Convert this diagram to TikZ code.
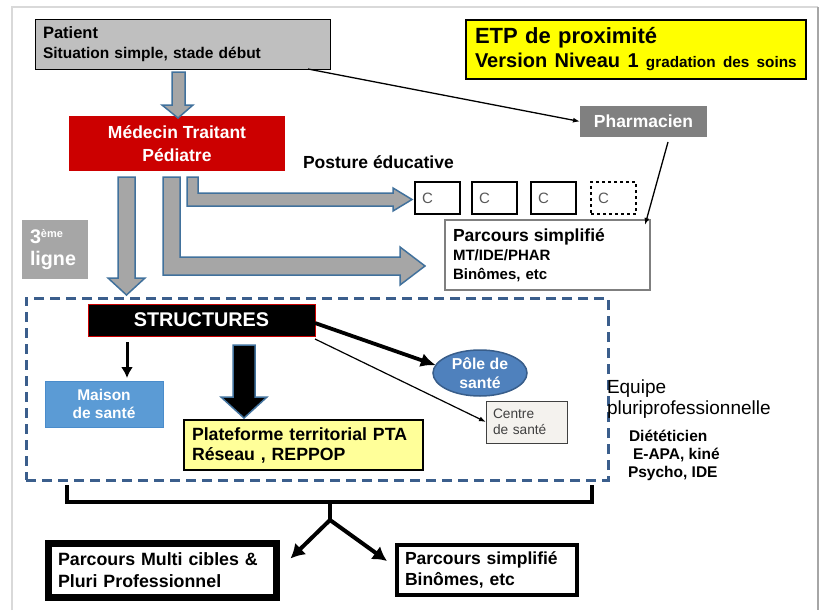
\documentclass[tikz,border=0pt]{standalone}
\usepackage{fontspec}
\setmainfont{Liberation Sans}
\usepackage{tikz}
\usetikzlibrary{arrows.meta,shapes.geometric,calc}

\definecolor{steel}{HTML}{41719C}
\definecolor{zoneblue}{HTML}{3B5E8C}
\definecolor{medred}{HTML}{CC0000}
\definecolor{boxgray}{HTML}{BFBFBF}
\definecolor{pharmgray}{HTML}{808080}
\definecolor{lignegray}{HTML}{A6A6A6}
\definecolor{blockgray}{HTML}{A6A6A6}
\definecolor{midgray}{HTML}{7F7F7F}
\definecolor{framegray}{HTML}{D9D9D9}
\definecolor{yel}{HTML}{FFFF00}
\definecolor{lightyel}{HTML}{FFFF99}
\definecolor{maisonblue}{HTML}{5B9BD5}
\definecolor{maisonedge}{HTML}{4A8CCB}
\definecolor{poleblue}{HTML}{4F81BD}
\definecolor{poleedge}{HTML}{385D8A}
\definecolor{centrefill}{HTML}{F4F2EE}
\definecolor{cgray}{HTML}{595959}

\newcommand{\fsz}[2]{\fontsize{#1}{#2}\selectfont}

\begin{document}
\begin{tikzpicture}[x=1pt,y=-1pt,
  every node/.style={outer sep=0pt},
  lbox/.style={anchor=north west,align=left,inner ysep=0pt},
  cbox/.style={draw,line width=1.8pt,anchor=north west,minimum width=45pt,minimum height=32pt,
    text width=31pt,inner xsep=7pt,align=left,text=cgray,font=\fsz{15}{18}},
  blockarrow/.style={fill=blockgray,draw=steel,line width=1.5pt,line join=miter},
  thinarrow/.style={-{Latex[length=7pt,width=5pt]},line width=1.3pt},
  thickarrow/.style={-{Latex[length=15pt,width=14pt]},line width=3.8pt},
  bracket/.style={line width=4pt,line join=miter},
  forkarrow/.style={-{Latex[length=14pt,width=16pt]},line width=4pt}]

  \useasboundingbox (0,0) rectangle (824,610);
  \draw[framegray,line width=1.5pt] (12,610) -- (12,7) -- (818,7);
  \draw[lignegray,line width=2.5pt] (818,7) -- (818,610);

  \node[lbox,draw,line width=1pt,fill=boxgray,minimum width=295pt,minimum height=49pt,
    text width=279pt,inner xsep=8pt,font=\bfseries\fsz{15.5}{20}] (patient) at (35,20)
    {{\fsz{16.5}{20}Patient}\\Situation simple, stade début};
  \node[fill=medred,minimum width=216pt,minimum height=55pt,align=center,text=white,
    font=\bfseries\fsz{17.5}{23}] (med) at (177,143.5) {Médecin Traitant\\Pédiatre};
  \node[lbox,draw,line width=1.3pt,fill=yel,minimum width=340pt,minimum height=59pt,
    text width=322pt,inner xsep=9pt,font=\bfseries\fsz{22}{24}] (etp) at (466,20)
    {ETP de proximité\\{\fsz{20}{24}Version Niveau 1} {\fsz{15.3}{24}gradation des soins}};
  \node[fill=pharmgray,minimum width=127pt,minimum height=31pt,text=white,
    font=\bfseries\fsz{17.5}{20}] (pharm) at (643.5,121.5) {Pharmacien};
  \node[anchor=west,inner sep=0pt,font=\bfseries\fsz{17.5}{20}] (posture) at (303,162) {Posture éducative};

  \node[cbox] (c1) at (415,182) {C};
  \node[cbox] (c2) at (472,182) {C};
  \node[cbox] (c3) at (531,182) {C};
  \node[cbox,dashed] (c4) at (591,182) {C};

  \node[lbox,draw=midgray,line width=1.2pt,fill=white,minimum width=205pt,minimum height=70pt,
    text width=189pt,inner xsep=8pt,font=\bfseries\fsz{15}{19}] (parc) at (445,220)
    {{\fsz{17.5}{19}Parcours simplifié}\\MT/IDE/PHAR\\Binômes, etc};
  \node[lbox,fill=lignegray,minimum width=66pt,minimum height=59pt,text width=50pt,inner xsep=8pt,
    text=white,font=\bfseries\fsz{19.7}{22}] (ligne) at (22,220)
    {3\raisebox{6pt}{\fsz{11}{11}ème}\\ligne};

  \draw[blockarrow] (172,72) -- (185,72) -- (185,105) -- (193,105) -- (178,118) -- (162,105) -- (172,105) -- cycle;
  \draw[blockarrow] (187,177) -- (198,177) -- (198,193) -- (393,193) -- (393,188) -- (412,199.5)
    -- (393,211) -- (393,206) -- (187,206) -- cycle;
  \draw[blockarrow] (163,177) -- (180,177) -- (180,257) -- (400,257) -- (400,247) -- (425,266)
    -- (400,285) -- (400,275) -- (163,275) -- cycle;
  \draw[blockarrow] (118,177) -- (135,177) -- (135,278) -- (145,278) -- (126.5,295) -- (108,278) -- (118,278) -- cycle;

  \node[draw=zoneblue,line width=3pt,dash pattern=on 10pt off 6pt,minimum width=582pt,
    minimum height=182pt,anchor=north west,inner sep=0pt] (zone) at (26,298) {};
  \node[fill=black,draw=medred,line width=0.8pt,minimum width=227pt,minimum height=32pt,text=white,
    font=\bfseries\fsz{19.8}{22}] (struct) at (201.5,320) {STRUCTURES};
  \node[fill=maisonblue,draw=maisonedge,line width=1pt,minimum width=118pt,minimum height=46pt,
    align=center,text=white,font=\bfseries\fsz{15.5}{18.5}] (maison) at (104,404) {Maison\\de santé};
  \node[lbox,draw,line width=1.2pt,fill=lightyel,minimum width=239pt,minimum height=50pt,
    text width=223pt,inner xsep=8pt,font=\bfseries\fsz{17.7}{20}] (pta) at (184,420)
    {Plateforme territorial PTA\\Réseau , REPPOP};
  \node[ellipse,fill=poleblue,draw=poleedge,line width=1.5pt,minimum width=94pt,minimum height=46pt,
    inner sep=0pt,align=center,text=white,font=\bfseries\fsz{15.8}{19}] (pole) at (480,373) {Pôle de\\santé};
  \node[lbox,draw=black!75,fill=centrefill,line width=1pt,minimum width=81pt,minimum height=42pt,
    text width=67pt,inner xsep=7pt,text=black!75,font=\fsz{13.7}{16}] (centre) at (486,401) {Centre\\de santé};

  \node[anchor=west,align=left,inner sep=0pt,font=\fsz{19}{21}] (equipe) at (607,399.5)
    {Equipe\\pluriprofessionnelle};
  \node[anchor=west,align=left,inner sep=0pt,font=\bfseries\fsz{15.5}{18}] (metiers) at (628,455)
    {\hspace{1pt}Diététicien\\\hspace{5pt}E-APA, kiné\\Psycho, IDE};

  \draw[blockarrow,fill=black] (233,345) -- (255,345) -- (255,397) -- (267,397) -- (244,418) -- (221,397) -- (233,397) -- cycle;

  \draw[thinarrow] (patient.south east) ++(-22,0) -- (pharm.west);
  \draw[thinarrow] ($(pharm.south)+(24.5,5)$) -- ($(parc.north east)+(-5,5)$);
  \draw[thickarrow] (struct.east) ++(0,3) -- (pole.170);
  \draw[thinarrow,line width=1.2pt] (struct.south east) ++(0,3) -- (centre.west);
  \coordinate (sm) at (127,342);
  \draw[-{Latex[length=11pt,width=12pt]},line width=3pt,shorten >=3pt] (sm) -- (sm |- maison.north);

  \node[lbox,draw,line width=7pt,minimum width=228pt,minimum height=54pt,text width=209pt,inner xsep=9.5pt,
    font=\bfseries\fsz{17.8}{22}] (bl) at (48.5,543.5) {Parcours Multi cibles \&\\Pluri Professionnel};
  \node[lbox,draw,line width=4pt,minimum width=180pt,minimum height=50pt,text width=164pt,inner xsep=8pt,
    font=\bfseries\fsz{17.5}{21}] (br) at (397,545) {Parcours simplifié\\Binômes, etc};

  \draw[bracket] (67,485) -- (67,502) -- (592,502) -- (592,485);
  \coordinate (fork) at (330,520);
  \draw[bracket] (330,502) -- (fork);
  \draw[forkarrow] (fork) -- ($(bl.north east)+(14,15)$);
  \draw[forkarrow] (fork) -- ($(br.north west)+(-10,16)$);

\end{tikzpicture}
\end{document}
